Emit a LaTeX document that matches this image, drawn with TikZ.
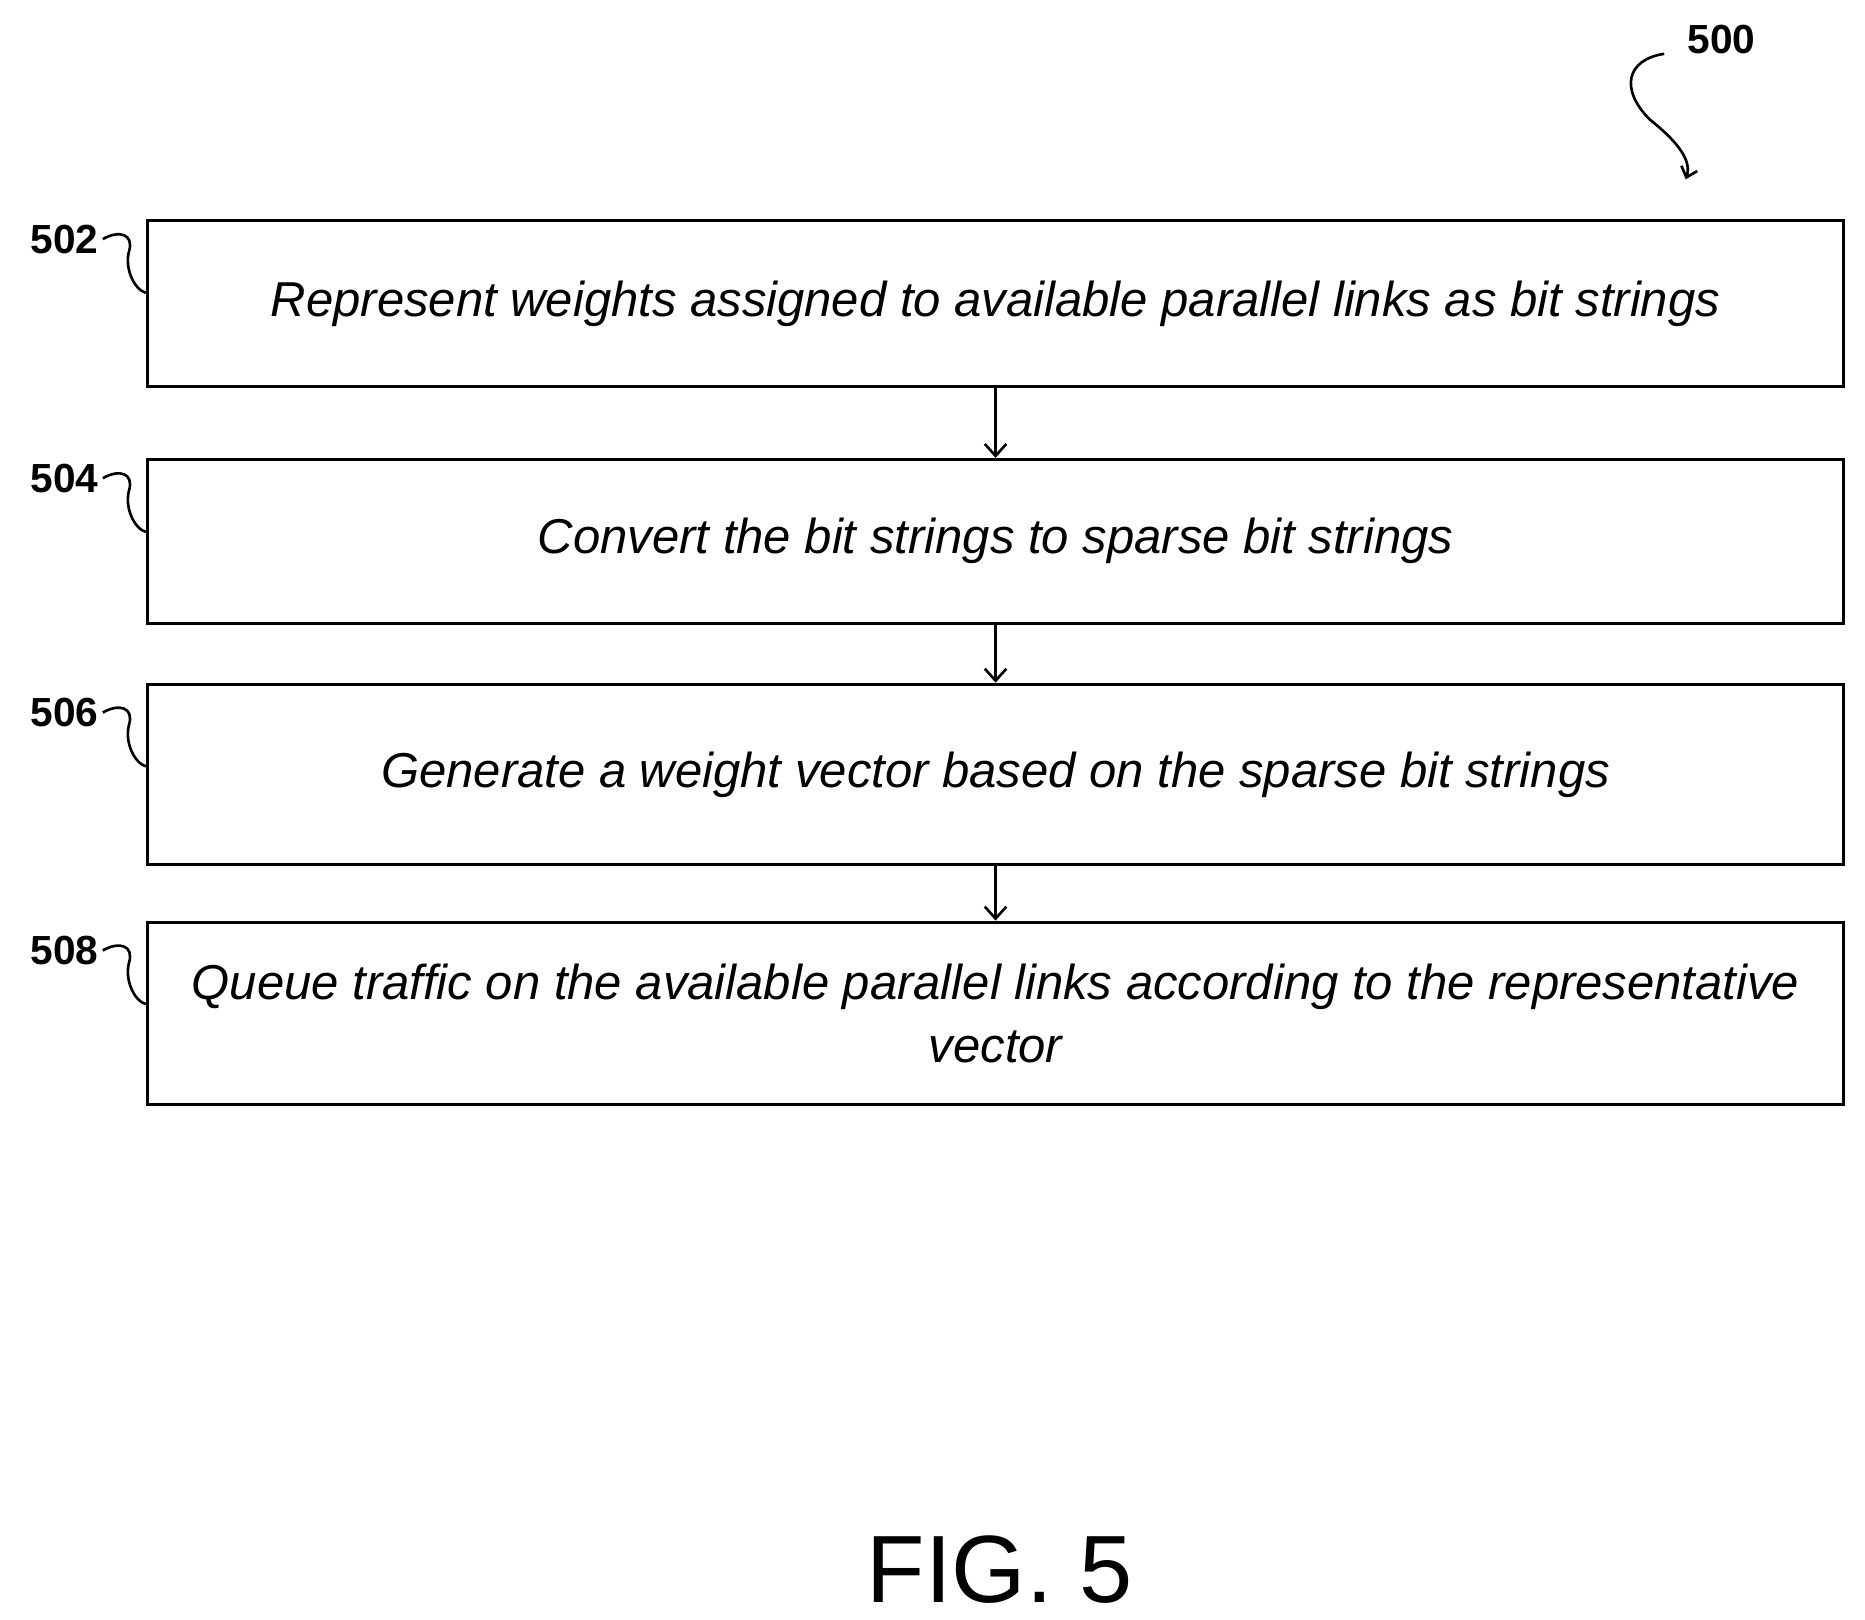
\documentclass[tikz,border=0pt]{standalone}
\usepackage{fontspec}
\setmainfont{Liberation Sans}
\usetikzlibrary{arrows.meta}
\begin{document}
\begin{tikzpicture}[x=1pt,y=-1pt,
 box/.style={draw,line width=2.5pt,minimum width=1419pt,anchor=north west,inner sep=0pt,align=center,font=\fontsize{41}{52}\selectfont\itshape},
 lab/.style={font=\fontsize{34}{40}\selectfont\bfseries},
 sq/.style={line width=2.2pt},
 arr/.style={line width=2.2pt,-{Straight Barb[length=10pt,width=18pt]}}]
\useasboundingbox (0,0) rectangle (1560,1355);
\node[box,minimum height=139pt] (b1) at (122,183) {Represent weights assigned to available parallel links as bit strings};
\node[box,minimum height=137pt] (b2) at (122,383) {Convert the bit strings to sparse bit strings};
\node[box,minimum height=151pt] (b3) at (122,571) {Generate a weight vector based on the sparse bit strings};
\node[box,minimum height=153pt] (b4) at (122,770) {Queue traffic on the available parallel links according to the representative\\vector};
\draw[arr] (b1.south) -- (b2.north);
\draw[arr] (b2.south) -- (b3.north);
\draw[arr] (b3.south) -- (b4.north);
\foreach \n/\y/\t in {l1/200/502,l2/400/504,l3/596/506,l4/795/508}{
 \node[lab,anchor=east] (\n) at (86,\y) {\t};
 \draw[sq] (\n.east) .. controls (100,\y-8) and (112,\y-4) .. (108,\y+10) .. controls (104,\y+24) and (112,\y+42) .. (122,\y+45);
}
\node[lab] (n500) at (1440,33) {500};
\coordinate (e500) at (1410,150);
\draw[sq,-{Straight Barb[length=8pt,width=14pt]}] (1392,45) .. controls (1360,50) and (1355,75) .. (1380,100) .. controls (1405,120) and (1415,135) .. (e500);
\node[font=\fontsize{80}{90}\selectfont] (fig) at (836,1313) {FIG. 5};
\end{tikzpicture}
\end{document}
